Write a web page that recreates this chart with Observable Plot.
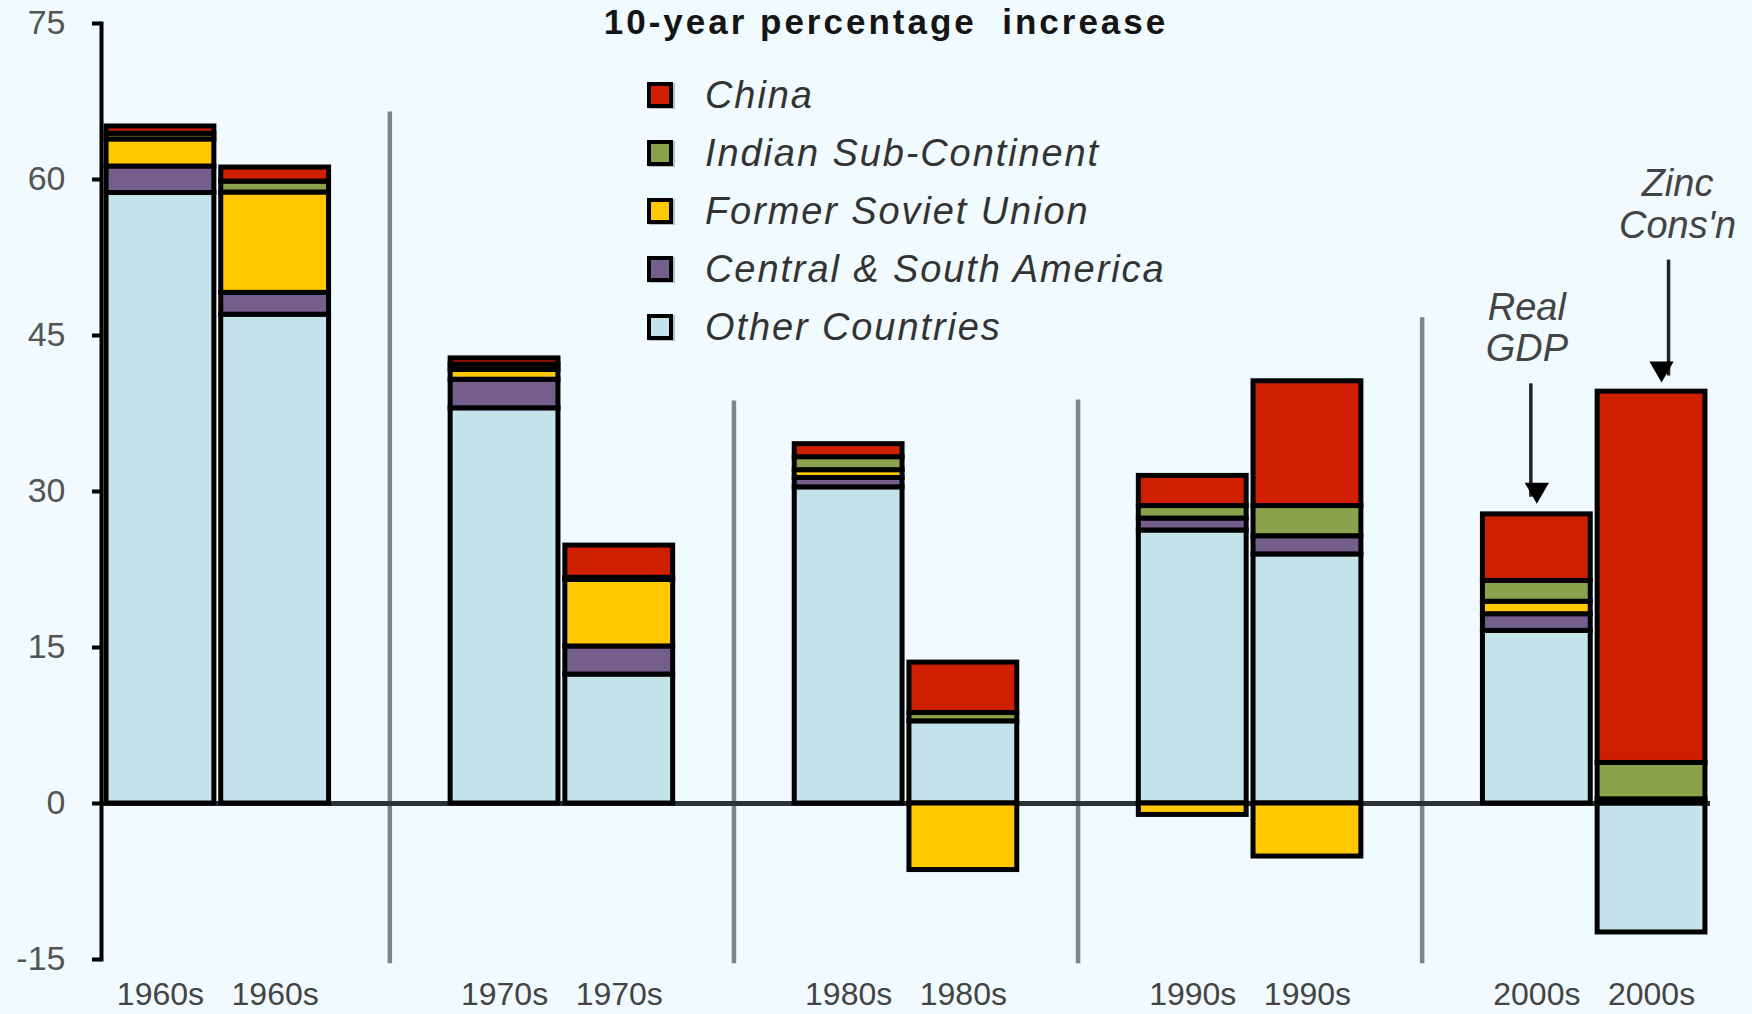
<!DOCTYPE html>
<html>
<head>
<meta charset="utf-8">
<script src="https://cdn.jsdelivr.net/npm/d3@7"></script>
<script src="https://cdn.jsdelivr.net/npm/@observablehq/plot@0.6"></script>
<style>
  html, body { margin: 0; padding: 0; background: #f0faff; }
  #wrap { position: relative; width: 1752px; height: 1014px; overflow: hidden;
          font-family: "Liberation Sans", Arial, sans-serif; }
  #title { position: absolute; left: 0; top: 2px; width: 1772px; text-align: center;
           font-weight: bold; font-size: 35px; letter-spacing: 3px; color: #151515; line-height: 40px; }
  #legend { position: absolute; left: 647px; top: 66px; }
  .row { display: flex; align-items: center; height: 58px; }
  .sw { box-sizing: border-box; width: 26px; height: 26px; border: 4px solid #000;
        box-shadow: 2px 1px 0 rgba(110,120,125,0.45); }
  .lab { margin-left: 32px; font-style: italic; font-size: 38px; letter-spacing: 1.9px; color: #333; white-space: nowrap; }
</style>
</head>
<body>
<div id="wrap">
  <div id="title"></div>
  <div id="legend"></div>
</div>
<script>
// ---- data ----
const decades = ["1960s", "1970s", "1980s", "1990s", "2000s"];
const measures = ["Real GDP", "Zinc Cons'n"];
const seriesNames = ["Other Countries", "Central & South America", "Former Soviet Union", "Indian Sub-Continent", "China"];
const seriesColors = ["#c4e3eb", "#745e8c", "#ffc800", "#8aa24b", "#cf1f00"];
// one value per bar: 1960s GDP, 1960s Zinc, 1970s GDP, 1970s Zinc, ... 2000s Zinc
const otherCountries      = [58.7, 47.0, 38.0, 12.4, 30.4, 7.9, 26.25, 23.95, 16.6, -12.4];
const centralSouthAmerica = [2.55, 2.1, 2.75, 2.7, 0.9, 0, 1.15, 1.75, 1.6, 0.4];
const formerSovietUnion   = [2.6, 9.65, 0.95, 6.4, 0.75, -6.4, -1.1, -5.1, 1.2, 0];
const indianSubContinent  = [0.55, 1.05, 0.5, 0.2, 1.25, 0.8, 1.2, 2.9, 2.0, 3.5];
const china               = [0.7, 1.35, 0.6, 3.1, 1.25, 4.85, 2.9, 12.0, 6.4, 35.7];
const yTicks = [-15, 0, 15, 30, 45, 60, 75];
const separatorTops = [66.5, 38.7, 38.8, 46.7];
const titleText = "10-year percentage\u00a0 increase";
// annotations (value space)
const annotationLabels = ["Real\nGDP", "Zinc\nCons'n"];
const annotationBars = ["2000s|Real GDP", "2000s|Zinc Cons'n"];
const annotationTextY = [45.8, 57.7];
const arrowFrom = [40.4, 52.3];
const arrowTip = [29.5, 41.15];
// horizontal nudges (px) of annotation text / arrow shaft / arrow head
const annotationTextDx = [-10, 26];
const arrowDx = [-6, 17];
const arrowHeadDx = [0, 10];

// ---- build tables ----
const seriesValues = [otherCountries, centralSouthAmerica, formerSovietUnion, indianSubContinent, china];
const barKeys = [];
const xDomain = [];
const gapKeys = [];
decades.forEach((d, i) => {
  measures.forEach(m => { barKeys.push(`${d}|${m}`); xDomain.push(`${d}|${m}`); });
  if (i < decades.length - 1) { const g = `gap${i}`; gapKeys.push(g); xDomain.push(g); }
});
const table = [];
seriesNames.forEach((s, si) => {
  barKeys.forEach((k, bi) => {
    const v = seriesValues[si][bi];
    if (v !== 0) table.push({key: k, series: s, value: v});
  });
});
const separators = gapKeys.map((k, i) => ({key: k, top: separatorTops[i]}));
const annotations = annotationLabels.map((t, i) => ({
  key: annotationBars[i], label: t, textY: annotationTextY[i], from: arrowFrom[i], tip: arrowTip[i],
  tdx: annotationTextDx[i], adx: arrowDx[i], hdx: arrowHeadDx[i]
}));

const annotationMarks = annotations.flatMap(a => [
  Plot.text([a], {x: "key", y: "textY", text: "label", fontSize: 38, fontStyle: "italic",
                  fill: "#444", lineHeight: 1.1, dx: a.tdx}),
  Plot.link([a], {x1: "key", x2: "key", y1: "from", y2: "tip", stroke: "#222", strokeWidth: 3.5, dx: a.adx}),
  Plot.dot([a], {x: "key", y: "tip", symbol: "triangle", rotate: 180, r: 9, fill: "#000", dy: -7, dx: a.hdx})
]);

// ---- chart ----
const chart = Plot.plot({
  width: 1752,
  height: 1014,
  marginTop: 23,
  marginBottom: 55,
  marginLeft: 101,
  marginRight: 42,
  style: {background: "transparent", fontFamily: "Liberation Sans, Arial, sans-serif", overflow: "visible"},
  x: {type: "band", domain: xDomain, paddingInner: 0.06, paddingOuter: 0.044, round: false, axis: null},
  y: {domain: [-15, 75], axis: null},
  color: {domain: seriesNames, range: seriesColors},
  marks: [
    Plot.ruleX(separators, {x: "key", y1: -15.4, y2: "top", stroke: "#7d8587", strokeWidth: 4.5}),
    Plot.ruleY([0], {stroke: "#2b3233", strokeWidth: 5}),
    Plot.barY(table, {x: "key", y: "value", fill: "series", stroke: "#000", strokeWidth: 5}),
    Plot.frame({anchor: "left", stroke: "#000", strokeWidth: 4}),
    Plot.axisY({ticks: yTicks, tickSize: 9, tickPadding: 27, fontSize: 34, fill: "#555", stroke: "#000",
                strokeWidth: 4, tickFormat: d => String(d), label: null}),
    Plot.axisX({tickSize: 0, tickPadding: 23, fontSize: 32, fill: "#444", label: null,
                tickFormat: k => k.startsWith("gap") ? "" : k.split("|")[0]}),
    ...annotationMarks
  ]
});
document.getElementById("wrap").appendChild(chart);

// title + legend
document.getElementById("title").textContent = titleText;
const legend = d3.select("#legend");
seriesNames.slice().reverse().forEach(s => {
  const row = legend.append("div").attr("class", "row");
  row.append("div").attr("class", "sw").style("background", seriesColors[seriesNames.indexOf(s)]);
  row.append("div").attr("class", "lab").text(s);
});
chart.style.position = "absolute";
chart.style.left = "0";
chart.style.top = "0";
document.getElementById("title").style.zIndex = 2;
document.getElementById("legend").style.zIndex = 2;
</script>
</body>
</html>
